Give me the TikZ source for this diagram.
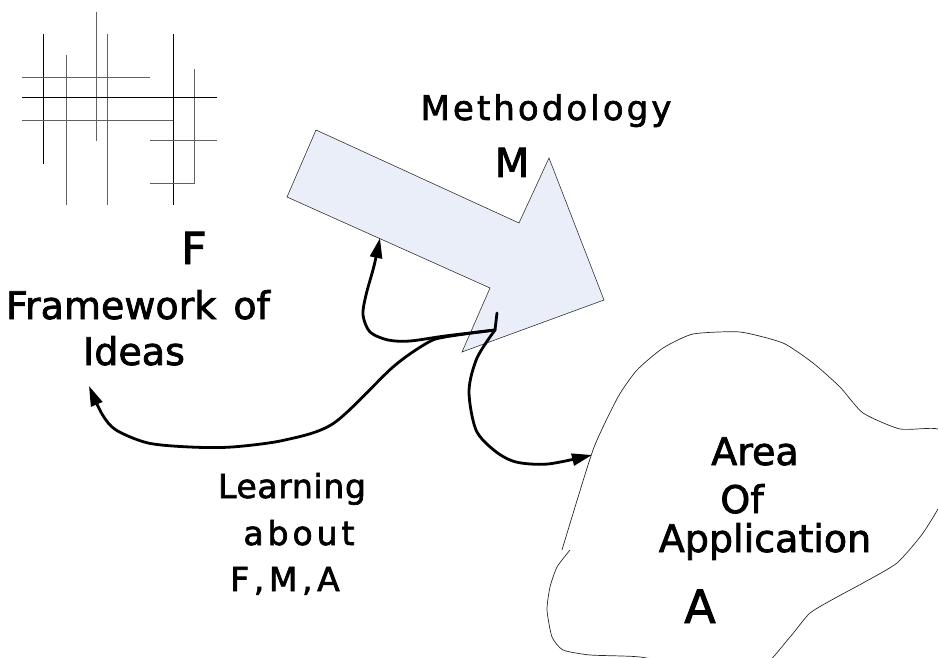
\documentclass[tikz,border=0pt]{standalone}
\usepackage{fontspec}
\setmainfont{DejaVu Sans}[FakeBold=2]
\usetikzlibrary{arrows.meta}
\definecolor{arrowfill}{RGB}{233,238,248}
\newcommand{\lsp}[1]{\addfontfeature{LetterSpace=#1}}
\begin{document}
\begin{tikzpicture}[x=1pt,y=-1pt,
  gridk/.style={line width=1pt,black},
  gridg/.style={line width=1pt,black!62},
  bigarrow/.style={draw=black!80,line width=0.6pt,fill=arrowfill},
  lbl/.style={anchor=base,inner sep=0pt},
  conn/.style={line width=2.8pt,line cap=round,line join=round},
  connarrow/.style={conn,-{Triangle[length=20pt,width=12pt]}},
  blob/.style={draw=black!85,line width=0.7pt}]
\useasboundingbox (0,0) rectangle (938,658);
% framework grid
\draw[gridk] (43,34) -- (43,164);
\draw[gridg] (66,55) -- (66,205);
\draw[gridg] (96,12) -- (96,141);
\draw[gridg] (107,34) -- (107,205);
\draw[gridk] (173,34) -- (173,205);
\draw[gridg] (194,69) -- (194,184);
\draw[gridg] (22,78) -- (150,78);
\draw[gridk] (22,98) -- (217,98);
\draw[gridg] (22,121) -- (173,121);
\draw[gridg] (150,141) -- (217,141);
\draw[gridg] (150,184) -- (194,184);
% methodology arrow
\draw[bigarrow] (316,130) -- (519,223) -- (549,158) -- (604,300) -- (462,352) -- (490,288) -- (287,197) -- cycle;
% area of application blob
\begin{scope}
\clip (0,0) rectangle (938,658);
\draw[blob] plot[smooth,tension=0.35] coordinates {(570,550) (557,567) (550,587) (547,610) (552,637) (563,650) (590,655) (640,657) (700,668) (760,668) (790,637) (810,613) (837,597) (863,583) (897,563) (923,533) (945,495) (950,450) (938,429) (900,429) (863,413) (840,387) (813,363) (783,343) (740,332) (693,334) (663,348) (637,370) (618,397) (593,450) (562,550)};
\end{scope}
% texts
\node[lbl,font=\fontsize{34}{40}\selectfont\lsp{9}] (meth) at (546,120) {Methodology};
\node[lbl,font=\fontsize{40}{46}\selectfont] (m) at (512,177) {M};
\node[lbl,font=\fontsize{44}{50}\selectfont] (f) at (194,264) {F};
\node[lbl,font=\fontsize{38}{44}\selectfont] (fw1) at (138,319) {Framework\hspace{5pt} of};
\node[lbl,font=\fontsize{38}{44}\selectfont] (fw2) at (134,365) {Ideas};
\node[lbl,font=\fontsize{33}{38}\selectfont\lsp{2}] (l1) at (292,498) {Learning};
\node[lbl,font=\fontsize{33}{38}\selectfont\lsp{12}] (l2) at (299,545) {about};
\node[lbl,font=\fontsize{33}{38}\selectfont\lsp{14}] (l3) at (285,591) {F,M,A};
\node[lbl,font=\fontsize{38}{44}\selectfont] (a1) at (755,465) {Area};
\node[lbl,font=\fontsize{38}{44}\selectfont] (a2) at (742,513) {Of};
\node[lbl,font=\fontsize{38}{44}\selectfont] (a3) at (765,552) {Application};
\node[lbl,font=\fontsize{46}{52}\selectfont] (a) at (700,623) {A};
% connectors
\coordinate (stubtop) at (497,313);
\coordinate (junc) at (495,330);
\coordinate (tipM) at (380,238);
\coordinate (tipF) at (89,386);
\coordinate (tipA) at (592,455);
\draw[conn] (stubtop) -- (junc);
\draw[connarrow] plot[smooth,tension=0.5] coordinates {(junc) (445,336) (410,341) (388,340) (370,332) (363,315) (366,295) (374,266) (tipM)};
\draw[connarrow] plot[smooth,tension=0.5] coordinates {(junc) (445,337) (427,343) (393,367) (334,423) (285,440) (232,447) (190,447) (148,443) (116,430) (102,414) (tipF)};
\draw[connarrow] plot[smooth,tension=0.5] coordinates {(junc) (477,358) (469,391) (476,430) (495,451) (516,462) (548,464) (tipA)};
\end{tikzpicture}
\end{document}
